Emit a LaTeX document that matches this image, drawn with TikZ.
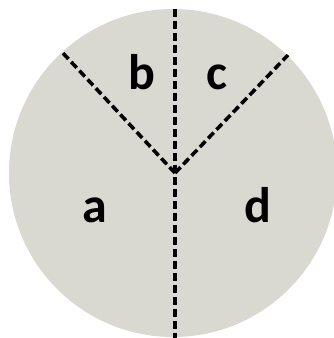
\documentclass[tikz,border=0pt]{standalone}
\usepackage{fontspec}
\setmainfont{Carlito}
\definecolor{discfill}{RGB}{217,217,210}
\begin{document}
\begin{tikzpicture}[x=1pt,y=-1pt,
  divider/.style={line width=3.6pt,dash pattern=on 8pt off 4pt},
  lbl/.style={font=\fontsize{50}{50}\selectfont\bfseries,anchor=base,inner sep=0pt}]
\useasboundingbox (0,0) rectangle (334,338);
\fill[discfill] (173,173) circle[radius=164];
\coordinate (v) at (175,173);
\coordinate (ul) at (61,51);
\coordinate (ur) at (288,55);
\coordinate (top) at (175,9);
\coordinate (bot) at (175,338);
\draw[divider] (v) -- (ul);
\draw[divider] (v) -- (ur);
\draw[divider] (top) -- (bot);
\node[lbl] (a) at (94.5,222) {a};
\node[lbl] (b) at (142,89) {b};
\node[lbl] (c) at (217,89) {c};
\node[lbl] (d) at (258,222) {d};
\end{tikzpicture}
\end{document}
